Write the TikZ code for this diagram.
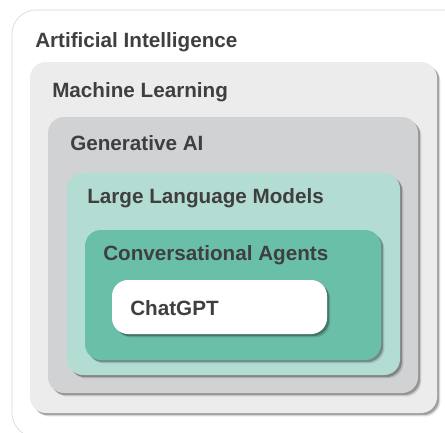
\documentclass[tikz,border=0pt]{standalone}
\usepackage{fontspec}
\setmainfont{Liberation Sans}[Ligatures=NoCommon]
\definecolor{aiedge}{HTML}{D2D2D2}
\definecolor{mlfill}{HTML}{ECECEC}
\definecolor{genfill}{HTML}{D1D2D4}
\definecolor{llmfill}{HTML}{B3DDD3}
\definecolor{cafill}{HTML}{6ABFA8}
\definecolor{labeltext}{HTML}{3F3F3F}
\tikzset{
  layer/.style={rounded corners=12pt,
    preaction={fill=black, opacity=.12, transform canvas={shift={(2.6pt,-2.6pt)}}},
    preaction={fill=black, opacity=.28, transform canvas={shift={(1.6pt,-1.6pt)}}}},
  layerlabel/.style={anchor=base west, inner sep=0pt, text=labeltext, font=\fontsize{15.5}{18}\selectfont\bfseries}
}
\begin{document}
\begin{tikzpicture}[x=0.75pt,y=0.75pt,yscale=-1,xscale=1]
  \useasboundingbox (0,0) rectangle (445,432);

  %Outer box: artificial intelligence
  \draw [aiedge, fill=white, rounded corners=18pt] (12,10) rectangle (470,437);
  %Machine learning
  \fill [layer, mlfill] (30,62) rectangle (437,413);
  %Generative AI
  \fill [layer, genfill] (48,117) rectangle (418,393);
  %Large language models
  \fill [layer, llmfill] (67,173) rectangle (400,375);
  %Conversational agents
  \fill [layer, cafill] (85,230) rectangle (381,360);
  %ChatGPT
  \fill [layer, white] (112,280) rectangle (327,334);

  % Text Nodes
  \node [layerlabel] (ai) at (35,47) {Artificial Intelligence};
  \node [layerlabel] (ml) at (52,97) {Machine Learning};
  \node [layerlabel] (gen) at (70,150) {Generative AI};
  \node [layerlabel] (llm) at (87,203) {Large Language Models};
  \node [layerlabel] (ca) at (103,260) {Conversational Agents};
  \node [layerlabel] (gpt) at (130,315) {ChatGPT};
\end{tikzpicture}
\end{document}
